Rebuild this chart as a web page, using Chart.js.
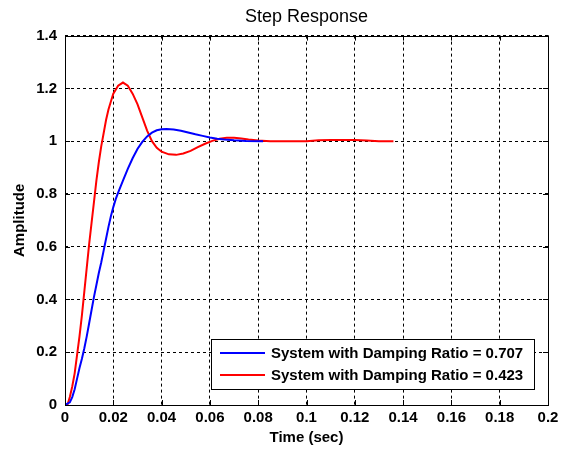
<!DOCTYPE html>
<html>
<head>
<meta charset="utf-8">
<script src="https://cdn.jsdelivr.net/npm/chart.js@4/dist/chart.umd.min.js"></script>
<style>
html,body{margin:0;padding:0;background:#fff;}
#wrap{width:565px;height:450px;}
</style>
</head>
<body>
<div id="wrap"><canvas id="c" width="565" height="450"></canvas></div>
<script>
const seriesLabels = ['System with Damping Ratio = 0.707', 'System with Damping Ratio = 0.423'];
const blueT = [0,0.002,0.003,0.004,0.005,0.006,0.007,0.008,0.009,0.010,0.011,0.012,0.013,0.014,0.015,0.016,0.017,0.018,0.019,0.020,0.021,0.022,0.024,0.026,0.028,0.030,0.032,0.034,0.036,0.038,0.040,0.042,0.045,0.048,0.051,0.054,0.057,0.060,0.063,0.066,0.070,0.075,0.082];
const blueY = [0,0.01,0.03,0.06,0.10,0.14,0.175,0.215,0.26,0.31,0.36,0.41,0.455,0.50,0.54,0.585,0.63,0.675,0.715,0.75,0.78,0.805,0.85,0.895,0.935,0.97,0.997,1.018,1.032,1.041,1.045,1.046,1.044,1.039,1.033,1.026,1.02,1.014,1.009,1.006,1.003,1.001,1.0];
const redT = [0,0.001,0.002,0.003,0.004,0.005,0.006,0.007,0.008,0.009,0.010,0.011,0.012,0.013,0.014,0.015,0.016,0.017,0.018,0.019,0.020,0.022,0.024,0.026,0.028,0.030,0.032,0.034,0.036,0.038,0.040,0.043,0.046,0.049,0.052,0.055,0.058,0.061,0.064,0.067,0.070,0.073,0.076,0.080,0.085,0.090,0.100,0.105,0.110,0.115,0.120,0.125,0.130,0.136];
const redY = [0,0.0,0.03,0.07,0.12,0.19,0.26,0.34,0.43,0.52,0.61,0.69,0.77,0.85,0.92,0.98,1.03,1.08,1.12,1.15,1.18,1.21,1.222,1.21,1.18,1.14,1.09,1.04,1.0,0.975,0.96,0.95,0.948,0.953,0.963,0.977,0.99,1.001,1.009,1.013,1.013,1.01,1.006,1.002,1.0,1.0,1.0,1.003,1.004,1.004,1.004,1.002,1.0,1.0];
const xTickLabels = ['0','0.02','0.04','0.06','0.08','0.1','0.12','0.14','0.16','0.18','0.2'];
const yTickLabels = ['0','0.2','0.4','0.6','0.8','1','1.2','1.4'];
const colors = ['#0000ff', '#ff0000'];
const FONT = '"Liberation Sans", Arial, sans-serif';

const toPts = (t, y) => t.map((v, i) => ({x: v, y: y[i]}));

const framePlugin = {
  id: 'frame',
  afterDatasetsDraw(chart) {
    const {ctx, chartArea: a, scales} = chart;
    ctx.save();
    ctx.strokeStyle = '#000';
    ctx.lineWidth = 1;
    ctx.setLineDash([]);
    ctx.beginPath();
    scales.x.ticks.forEach(t => {
      const px = Math.round(scales.x.getPixelForValue(t.value)) + 0.5;
      ctx.moveTo(px, a.bottom); ctx.lineTo(px, a.bottom - 5);
      ctx.moveTo(px, a.top); ctx.lineTo(px, a.top + 5);
    });
    scales.y.ticks.forEach(t => {
      const py = Math.round(scales.y.getPixelForValue(t.value)) + 0.5;
      ctx.moveTo(a.left, py); ctx.lineTo(a.left + 5, py);
      ctx.moveTo(a.right, py); ctx.lineTo(a.right - 5, py);
    });
    ctx.stroke();
    ctx.strokeRect(Math.round(a.left) + 0.5, Math.round(a.top) + 0.5, Math.round(a.right - a.left), Math.round(a.bottom - a.top));
    // legend box
    const lx = 211, ly = 339, lw = 323, lh = 50;
    ctx.fillStyle = '#fff';
    ctx.fillRect(lx, ly, lw, lh);
    ctx.strokeRect(lx + 0.5, ly + 0.5, lw, lh);
    ctx.font = 'bold 15px ' + FONT;
    ctx.textBaseline = 'middle';
    ctx.textAlign = 'left';
    chart.data.datasets.forEach((ds, i) => {
      const yy = ly + 14 + i * 22;
      ctx.strokeStyle = ds.borderColor;
      ctx.lineWidth = 2;
      ctx.beginPath();
      ctx.moveTo(220, yy); ctx.lineTo(265, yy);
      ctx.stroke();
      ctx.fillStyle = '#000';
      ctx.fillText(ds.label, 271, yy + 1);
    });
    ctx.restore();
  }
};

new Chart(document.getElementById('c'), {
  type: 'line',
  data: {
    datasets: [
      {label: seriesLabels[0], data: toPts(blueT, blueY), borderColor: colors[0], borderWidth: 2, pointRadius: 0, tension: 0, fill: false},
      {label: seriesLabels[1], data: toPts(redT, redY), borderColor: colors[1], borderWidth: 2, pointRadius: 0, tension: 0, fill: false}
    ]
  },
  options: {
    responsive: false,
    animation: false,
    devicePixelRatio: 1,
    layout: {padding: {left: 0, right: 17, top: 0, bottom: 0}},
    plugins: {
      legend: {display: false},
      tooltip: {enabled: false},
      title: {
        display: true,
        fullSize: false,
        text: 'Step Response',
        color: '#000',
        font: {family: FONT, size: 18, weight: 'normal', lineHeight: 1.2},
        padding: {top: 6, bottom: 8}
      }
    },
    scales: {
      x: {
        type: 'linear', min: 0, max: 0.2,
        afterFit: s => { s.height = 45; },
        afterBuildTicks: s => { s.ticks = xTickLabels.map(v => ({value: parseFloat(v)})); },
        ticks: {
          callback: (v, i) => xTickLabels[i],
          color: '#000', padding: 4, maxRotation: 0, autoSkip: false,
          font: {family: FONT, size: 15, weight: 'bold'}
        },
        grid: {color: '#000', lineWidth: 1, drawTicks: false},
        border: {display: false, dash: [3, 3]},
        title: {
          display: true, text: 'Time (sec)', color: '#000', padding: 3,
          font: {family: FONT, size: 15, weight: 'bold', lineHeight: 1.2}
        }
      },
      y: {
        type: 'linear', min: 0, max: 1.4,
        afterFit: s => { s.width = 65; },
        afterBuildTicks: s => { s.ticks = yTickLabels.map(v => ({value: parseFloat(v)})); },
        ticks: {
          callback: (v, i) => yTickLabels[i],
          color: '#000', padding: 8, autoSkip: false,
          font: {family: FONT, size: 15, weight: 'bold'}
        },
        grid: {color: '#000', lineWidth: 1, drawTicks: false},
        border: {display: false, dash: [3, 3]},
        title: {
          display: true, text: 'Amplitude', color: '#000', padding: 11,
          font: {family: FONT, size: 15, weight: 'bold', lineHeight: 1.2}
        }
      }
    }
  },
  plugins: [framePlugin]
});
</script>
</body>
</html>
